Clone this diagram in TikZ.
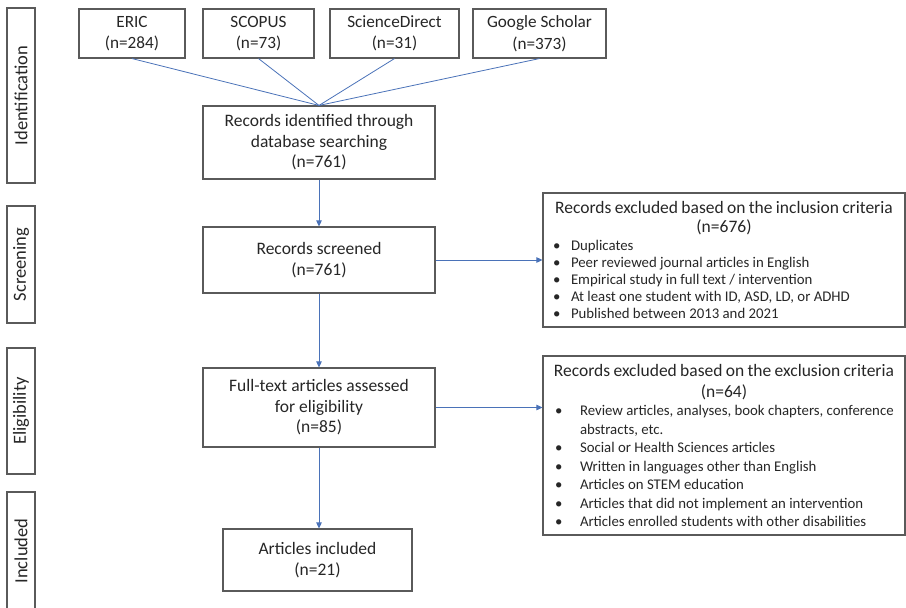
\documentclass[tikz,border=0pt]{standalone}
\usepackage{fontspec}
\setmainfont{Carlito}
\usetikzlibrary{arrows.meta}
\definecolor{bordc}{HTML}{5A5A5A}
\definecolor{txtc}{HTML}{262626}
\definecolor{linec}{HTML}{4A72B8}
\newcommand\bitem[3]{\par\noindent\hspace*{#1}\makebox[#2][l]{•}#3}
\begin{document}
\begin{tikzpicture}[x=1pt,y=-1pt,
  box/.style={draw=bordc,line width=1.1pt,text=txtc,align=center,inner sep=0pt,
    font=\fontsize{17.5}{20.5}\selectfont},
  srcbox/.style={box,minimum height=49pt,font=\fontsize{17.2}{21.5}\selectfont},
  side/.style={draw=bordc,line width=1.1pt,text=txtc,inner sep=0pt,rotate=90,
    minimum height=28pt,font=\fontsize{18.5}{20}\selectfont},
  exbox/.style={draw=bordc,line width=1.1pt,text=txtc,inner sep=0pt,text width=362pt},
  link/.style={draw=linec,line width=0.8pt},
  arr/.style={link,-{Triangle[length=6pt,width=5.5pt]}},
]
\useasboundingbox (0,0) rectangle (906,608);
\clip (0,0) rectangle (906,608);

% side labels
\node[side,minimum width=175pt] (sid) at (21,95.5) {Identification};
\node[side,minimum width=117pt] (sscr) at (21,264.5) {Screening};
\node[side,minimum width=126pt] (selig) at (21,411) {Eligibility};
\node[side,minimum width=118pt] (sinc) at (21,551) {Included};

% sources
\node[srcbox,minimum width=106pt] (eric) at (132,33.5) {ERIC\\(n=284)};
\node[srcbox,minimum width=111pt] (scopus) at (258.5,33.5) {SCOPUS\\(n=73)};
\node[srcbox,minimum width=129pt] (sd) at (394.5,33.5) {ScienceDirect\\(n=31)};
\node[srcbox,minimum width=133pt] (gs) at (539.5,33.5) {Google Scholar\\(n=373)};

% main column
\node[box,minimum width=232pt,minimum height=73pt] (ident) at (319,142.5)
  {Records identified through\\database searching\\(n=761)};
\node[box,minimum width=232pt,minimum height=66pt] (screen) at (319,260)
  {Records screened\\(n=761)};
\node[box,minimum width=232pt,minimum height=79pt] (full) at (319,407.5)
  {Full-text articles assessed\\for eligibility\\(n=85)};
\node[box,minimum width=189pt,minimum height=62pt] (incl) at (317.5,560)
  {Articles included\\(n=21)};

% exclusion boxes
\node[exbox,minimum height=134pt] (ex1) at (724,260) {%
  {\fontsize{17.5}{19}\selectfont\centering Records excluded based on the inclusion criteria\\(n=676)\par}
  \vspace{1pt}\fontsize{14.8}{17}\selectfont
  \bitem{10pt}{18pt}{Duplicates}
  \bitem{10pt}{18pt}{Peer reviewed journal articles in English}
  \bitem{10pt}{18pt}{Empirical study in full text / intervention}
  \bitem{10pt}{18pt}{At least one student with ID, ASD, LD, or ADHD}
  \bitem{10pt}{18pt}{Published between 2013 and 2021}\par};
\node[exbox,minimum height=179pt] (ex2) at (724,445.5) {%
  {\fontsize{17.5}{21}\selectfont\centering Records excluded based on the exclusion criteria\\(n=64)\par}
  \fontsize{14.8}{18.5}\selectfont
  \bitem{12pt}{25pt}{Review articles, analyses, book chapters, conference}
  \par\noindent\hspace*{37pt}abstracts, etc.
  \bitem{12pt}{25pt}{Social or Health Sciences articles}
  \bitem{12pt}{25pt}{Written in languages other than English}
  \bitem{12pt}{25pt}{Articles on STEM education}
  \bitem{12pt}{25pt}{Articles that did not implement an intervention}
  \bitem{12pt}{25pt}{Articles enrolled students with other disabilities}\par};

% connectors
\foreach \s in {eric,scopus,sd,gs} \draw[link] (\s.south) -- (ident.north);
\draw[arr] (ident.south) -- (screen.north);
\draw[arr] (screen.south) -- (full.north);
\draw[arr] (full.south) -- (full.south |- incl.north);
\draw[arr] (screen.east) -- (ex1.west);
\draw[arr] (full.east) -- (full.east -| ex2.west);
\end{tikzpicture}
\end{document}
